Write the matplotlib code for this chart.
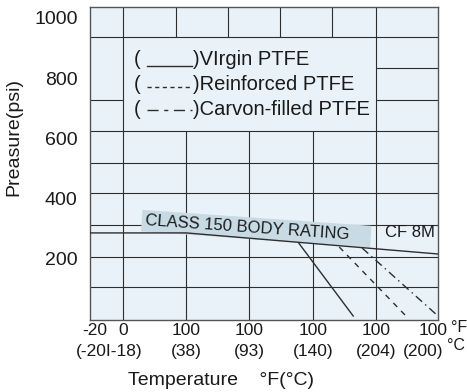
import numpy as np
import matplotlib.pyplot as plt
from matplotlib.lines import Line2D

plt.rcParams['font.family'] = ['Liberation Sans', 'DejaVu Sans']

# --- data: x is the grid column position, y is pressure in psi ---------------

body_x   = [-0.52, 1.0, 4.98]
body_psi = [286, 286, 216]

virgin_x   = [2.78, 3.64]
virgin_psi = [252, 10]

reinf_x   = [3.42, 4.46]
reinf_psi = [239, 13]

carbon_x   = [3.78, 4.98]
carbon_psi = [236, 10]

f_pos    = [-0.44, 0, 1, 2, 3, 4, 4.9]
f_labels = ['-20', '0', '100', '100', '100', '100', '100']
c_pos    = [-0.21, 1, 2, 3, 4, 4.74]
c_labels = ['(-20I-18)', '(38)', '(93)', '(140)', '(204)', '(200)']

psi_ticks  = [200, 400, 600, 800, 1000]
psi_labels = ['200', '400', '600', '800', '1000']

legend_rows = [')VIrgin PTFE', ')Reinforced PTFE', ')Carvon-filled PTFE']

# -----------------------------------------------------------------------------

INK  = '#2e2e2e'
TXT  = '#1a1a1a'
BG   = '#e9f2f9'
BAND = '#c8dbe5'
XMIN, XMAX = -0.52, 4.98
YMIN, YMAX = -3.3, 1036.5

fig = plt.figure(figsize=(4.67, 3.92), dpi=100, facecolor='white')
ax = fig.add_axes([90 / 467, 72 / 392, 348 / 467, 313 / 392], facecolor=BG)
ax.set_xlim(XMIN, XMAX)
ax.set_ylim(YMIN, YMAX)

for s in ax.spines.values():
    s.set_color('#555555')
    s.set_linewidth(1.0)

# brick-style grid
gkw = dict(color=INK, lw=0.8, zorder=1)
for y in [106, 206, 312, 419, 518, 625, 937]:
    ax.hlines(y, XMIN, XMAX, **gkw)
ax.hlines(729, XMIN, 0, **gkw)
ax.hlines([729, 834], 4, XMAX, **gkw)
ax.vlines([0, 4], YMIN, YMAX, **gkw)
ax.vlines([1, 2, 3], YMIN, 625, **gkw)
ax.vlines([0.84, 1.66, 2.48, 3.30], 937, YMAX, **gkw)

# rating band label
ax.text(0.35, 326, 'CLASS 150 BODY RATING    ', rotation=-4,
        rotation_mode='anchor', ha='left', va='center', fontsize=12,
        color=TXT, zorder=2,
        bbox=dict(boxstyle='square,pad=0.2', fc=BAND, ec='none'))
ax.text(0.92, 0.278, 'CF 8M', transform=ax.transAxes, ha='center',
        va='center', fontsize=12, color=TXT, zorder=4)

# pressure-temperature curves
ax.plot(body_x, body_psi, color=INK, lw=1.0, zorder=3)
ax.plot(virgin_x, virgin_psi, color=INK, lw=1.0, zorder=3)
ax.plot(reinf_x, reinf_psi, color=INK, lw=1.0, ls=(0, (4, 4)), zorder=3)
ax.plot(carbon_x, carbon_psi, color=INK, lw=1.0, ls=(0, (6, 3, 1, 3)), zorder=3)

# hand-written style legend
styles = ['-', (0, (3, 2.5)), (0, (8, 4, 3, 4))]
rows_y = [0.831, 0.751, 0.671]
line_y = [0.812, 0.746, 0.671]
for label, ls, ty, ly in zip(legend_rows, styles, rows_y, line_y):
    ax.text(0.126, ty, '(', transform=ax.transAxes, ha='left', va='center',
            fontsize=14.5, color=TXT)
    ax.add_line(Line2D([0.164, 0.293], [ly, ly], transform=ax.transAxes,
                       color=INK, lw=1.0, ls=ls))
    ax.text(0.296, ty, label, transform=ax.transAxes, ha='left', va='center',
            fontsize=14.5, color=TXT)

# axes ticks: two label rows on x, no tick marks
ax.set_xticks(f_pos)
ax.set_xticklabels(f_labels)
ax.set_xticks(c_pos, minor=True)
ax.set_xticklabels(c_labels, minor=True)
ax.xaxis.remove_overlapping_locs = False
ax.tick_params(axis='x', which='major', length=0, pad=2.5,
               labelsize=12.5, labelcolor=TXT)
ax.tick_params(axis='x', which='minor', length=0, pad=17,
               labelsize=12.5, labelcolor=TXT)

ax.set_yticks(psi_ticks)
ax.set_yticklabels(psi_labels)
ax.tick_params(axis='y', length=0, pad=9, labelsize=14, labelcolor=TXT)

fig.text(451 / 467, 1 - 328 / 392, '°F', fontsize=11.5, ha='left', va='center',
         color=TXT)
fig.text(447 / 467, 1 - 346 / 392, '°C', fontsize=11.5, ha='left', va='center',
         color=TXT)

ax.set_ylabel('Preasure(psi)', fontsize=14, color=TXT)
ax.yaxis.set_label_coords(-0.195, 0.585)
ax.set_xlabel('Temperature    °F(°C)', fontsize=14, color=TXT)
ax.xaxis.set_label_coords(0.375, -0.165)

fig.savefig('out.png', dpi=100, facecolor='white')
